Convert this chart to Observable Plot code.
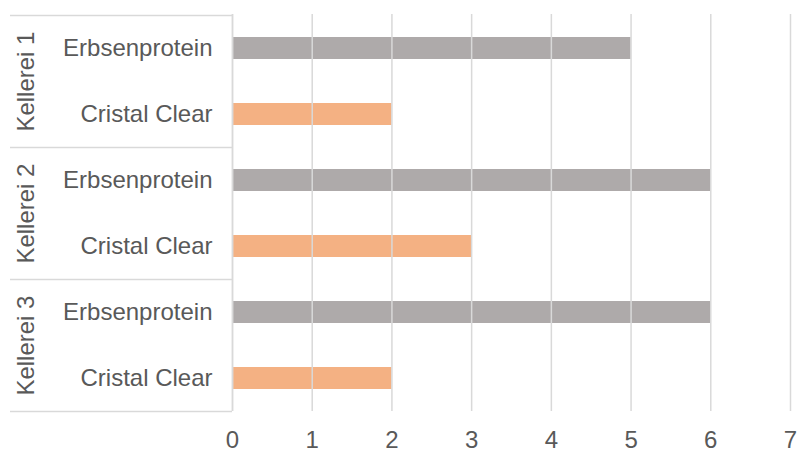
<!DOCTYPE html>
<html>
<head>
<meta charset="utf-8">
<script src="https://cdn.jsdelivr.net/npm/d3@7"></script>
<script src="https://cdn.jsdelivr.net/npm/@observablehq/plot@0.6"></script>
<style>
  html, body { margin: 0; padding: 0; background: #fff; }
  svg { display: block; }
</style>
</head>
<body>
<div id="chart"></div>
<script>
const groups = ["Kellerei 1", "Kellerei 2", "Kellerei 3"];
const products = ["Erbsenprotein", "Cristal Clear"];
const values = [
  [5, 2],
  [6, 3],
  [6, 2]
];
const colors = ["#aeaaaa", "#f4b183"];
const xTicks = [0, 1, 2, 3, 4, 5, 6, 7];

const data = [];
groups.forEach((g, gi) => products.forEach((p, pi) => {
  data.push({key: g + "|" + p, group: g, product: p, value: values[gi][pi], color: colors[pi]});
}));
const keys = data.map(d => d.key);
const groupStarts = groups.map(g => ({group: g, key: g + "|" + products[0]}));
const lastKey = keys[keys.length - 1];

const H = 450, MT = 14, MB = 39;
const band = (H - MT - MB) / keys.length;
const font = "'Liberation Sans', Arial, sans-serif";
const textColor = "#595959";
const fs = 24;

const plot = Plot.plot({
  width: 797,
  height: H,
  marginLeft: 232,
  marginRight: 7,
  marginTop: MT,
  marginBottom: MB,
  style: {fontFamily: font, fontSize: fs + "px", color: textColor, background: "#fff", overflow: "visible"},
  x: {domain: [0, 7], ticks: xTicks},
  y: {domain: keys, padding: 0},
  marks: [
    Plot.barX(data, {x: "value", y: "key", fill: "color", insetTop: 22, insetBottom: 22}),
    Plot.gridX(xTicks, {stroke: "#d9d9d9", strokeOpacity: 1, strokeWidth: 1.5}),
    Plot.axisX({ticks: xTicks, tickFormat: d3.format("d"), tickSize: 0, tickPadding: 19, fontSize: fs, fill: textColor, label: null}),
    Plot.axisY({tickSize: 0, tickPadding: 20, fontSize: fs, fill: textColor, label: null,
      tickFormat: k => k.split("|")[1]}),
    Plot.ruleY(groupStarts, {y: "key", x1: 0, x2: 0, insetLeft: -222, dy: -band / 2, stroke: "#d9d9d9", strokeWidth: 1.5}),
    Plot.ruleY([lastKey], {y: d => d, x1: 0, x2: 0, insetLeft: -222, dy: band / 2, stroke: "#d9d9d9", strokeWidth: 1.5}),
    Plot.ruleX([0], {stroke: "#d9d9d9", strokeWidth: 1.5}),
    Plot.text(groupStarts, {y: "key", text: "group", frameAnchor: "left", textAnchor: "middle",
      dx: -206, dy: band / 2, rotate: -90, fontSize: fs, fill: textColor})
  ]
});
document.getElementById("chart").appendChild(plot);
</script>
</body>
</html>
